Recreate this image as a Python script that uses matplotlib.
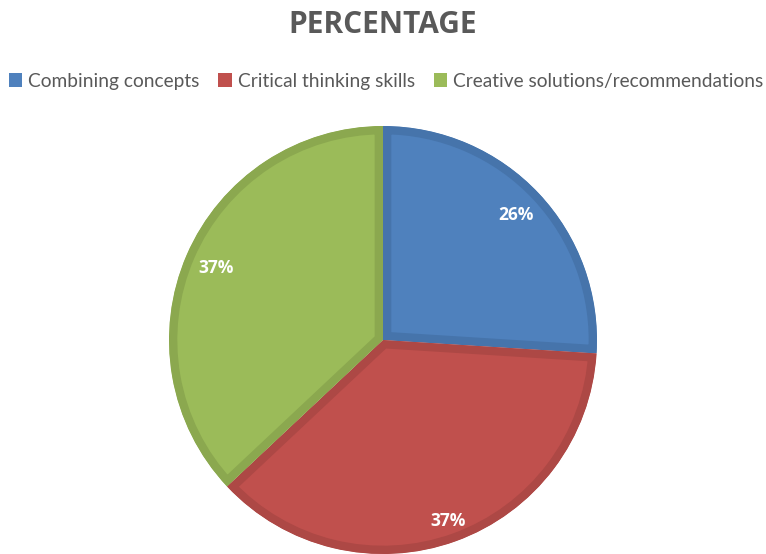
import matplotlib.pyplot as plt
from matplotlib.patches import Patch

# Data
labels = ['Combining concepts', 'Critical thinking skills', 'Creative solutions/recommendations']
values = [26, 37, 37]
fills = ['#4F81BD', '#C0504D', '#9BBB59']
edges = ['#4674AB', '#AD4845', '#8BA84F']

W, H = 766, 554
fig = plt.figure(figsize=(W / 100, H / 100), dpi=100)

# pie centre (383, 340), radius 214 px
cx, cy, r = 383, 340, 214
ax = fig.add_axes([(cx - r) / W, (H - cy - r) / H, 2 * r / W, 2 * r / H])

wedges, texts, autotexts = ax.pie(
    values, colors=fills, startangle=90, counterclock=False, radius=1,
    autopct='%1.0f%%', pctdistance=0.85,
    textprops=dict(color='white', fontsize=12.5, fontweight='bold', family='Open Sans'),
    wedgeprops=dict(linewidth=12),
)
for w, ec in zip(wedges, edges):
    w.set_edgecolor(ec)
    # pie turns clipping off; keep border stroke inside the wedge
    w.set_clip_path(w.get_path(), ax.transData)
    w.set_clip_on(True)
# Excel pushed the bottom label a bit further out
x, y = autotexts[1].get_position()
autotexts[1].set_position((x * 1.06, y * 1.06))

ax.set_xlim(-1, 1)
ax.set_ylim(-1, 1)
ax.set_aspect('equal')
ax.axis('off')

fig.text(0.5, 1 - 25 / H, 'PERCENTAGE', ha='center', va='center',
         fontsize=21.5, fontweight='bold', color='#595959', family='Open Sans')

handles = [Patch(facecolor=c, edgecolor='none') for c in fills]
fig.legend(handles, labels, loc='center', bbox_to_anchor=(0.504, 1 - 81 / H), ncol=3,
           frameon=False, labelcolor='#595959',
           handlelength=0.7, handleheight=0.7, handletextpad=0.3, columnspacing=1.0,
           prop=dict(family='Lato', size=13.8))

fig.savefig('out.png', dpi=100)
